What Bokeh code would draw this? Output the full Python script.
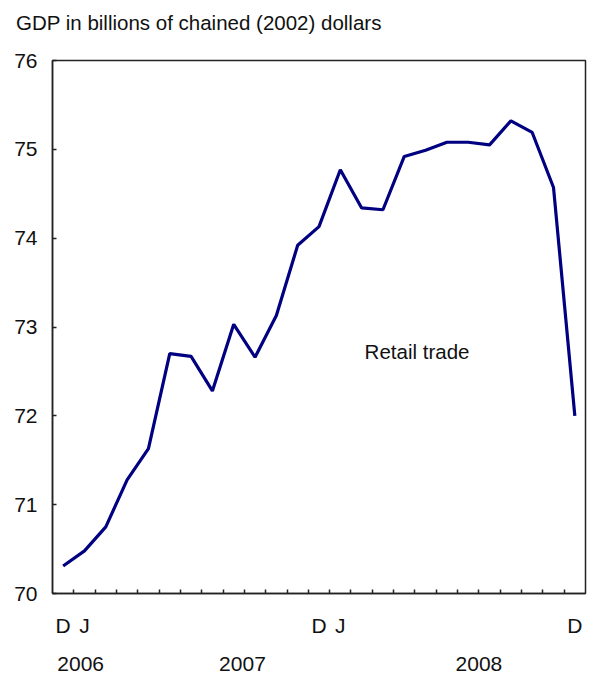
from bokeh.plotting import figure
from bokeh.models import Range1d, FixedTicker, LinearAxis, Label, Div
from bokeh.layouts import column
from bokeh.embed import file_html
from bokeh.resources import INLINE

# ---- data ----
months = ["D", "J", "F", "M", "A", "M", "J", "J", "A", "S", "O", "N",
          "D", "J", "F", "M", "A", "M", "J", "J", "A", "S", "O", "N", "D"]
gdp = [70.31, 70.48, 70.75, 71.28, 71.63, 72.70, 72.67, 72.28, 73.03, 72.66,
       73.13, 73.92, 74.13, 74.77, 74.34, 74.32, 74.92, 74.99, 75.08, 75.08,
       75.05, 75.32, 75.19, 74.57, 72.00]
shown_month_idx = [0, 1, 12, 13, 24]
years = ["2006", "2007", "2008"]
year_pos = [0.82, 8.41, 19.5]
y_ticks = [70, 71, 72, 73, 74, 75, 76]
series_label = "Retail trade"
title_text = "GDP in billions of chained (2002) dollars"

FONT = "Liberation Sans"
TXT = "#111111"

x = list(range(len(gdp)))

# title as a block above the chart
head = Div(
    text=('<div style="padding-top:11px;padding-left:16px;'
          "font-family:'Liberation Sans';font-size:20.5px;line-height:normal;"
          'color:#111111;white-space:nowrap;">' + title_text + '</div>'),
    width=590, height=40, margin=0)

p = figure(width=590, height=650, output_backend="svg", toolbar_location=None,
           x_range=Range1d(-0.5, len(gdp) - 0.5), y_range=Range1d(70, 76),
           x_axis_location=None, y_axis_location=None,
           min_border_left=52, min_border_right=5, min_border_top=20,
           min_border_bottom=97, margin=0)
p.background_fill_color = "white"
p.border_fill_color = "white"
p.outline_line_color = "#222222"
p.outline_line_width = 1.5
p.xgrid.visible = False
p.ygrid.visible = False

p.line(x, gdp, line_color="#000080", line_width=3.2)

# y axis
yax = LinearAxis(ticker=FixedTicker(ticks=y_ticks))
yax.axis_line_color = "#222222"
yax.axis_line_width = 1.5
yax.major_tick_in = 4
yax.major_tick_out = 0
yax.major_tick_line_color = "#222222"
yax.major_tick_line_width = 1.5
yax.minor_tick_line_color = None
yax.major_label_standoff = 15
yax.major_label_text_font = FONT
yax.major_label_text_font_size = "21px"
yax.major_label_text_color = TXT
p.add_layout(yax, "left")

# x axis: month labels + monthly tick marks between points
minor = [i + 0.5 for i in range(len(gdp) - 1)]
xax = LinearAxis(ticker=FixedTicker(ticks=shown_month_idx, minor_ticks=minor))
xax.major_label_overrides = {i: months[i] for i in shown_month_idx}
xax.axis_line_color = "#222222"
xax.axis_line_width = 1.5
xax.major_tick_line_color = None
xax.major_tick_in = 0
xax.major_tick_out = 0
xax.minor_tick_in = 4
xax.minor_tick_out = 0
xax.minor_tick_line_color = "#222222"
xax.minor_tick_line_width = 1.5
xax.major_label_standoff = 20
xax.major_label_text_font = FONT
xax.major_label_text_font_size = "21px"
xax.major_label_text_color = TXT
p.add_layout(xax, "below")

# year axis
yrax = LinearAxis(ticker=FixedTicker(ticks=year_pos, minor_ticks=[]))
yrax.major_label_overrides = {pos: yr for pos, yr in zip(year_pos, years)}
yrax.axis_line_color = None
yrax.major_tick_line_color = None
yrax.minor_tick_line_color = None
yrax.major_tick_in = 0
yrax.major_tick_out = 0
yrax.major_label_standoff = 17
yrax.major_label_text_font = FONT
yrax.major_label_text_font_size = "21px"
yrax.major_label_text_color = TXT
p.add_layout(yrax, "below")

# series label
p.add_layout(Label(x=14.14, y=72.72, text=series_label, text_font=FONT,
                   text_font_size="20.5px", text_color=TXT,
                   text_baseline="middle", text_align="left"))

layout = column(head, p, spacing=0, margin=0)
open("out.html", "w").write(file_html(layout, INLINE))
